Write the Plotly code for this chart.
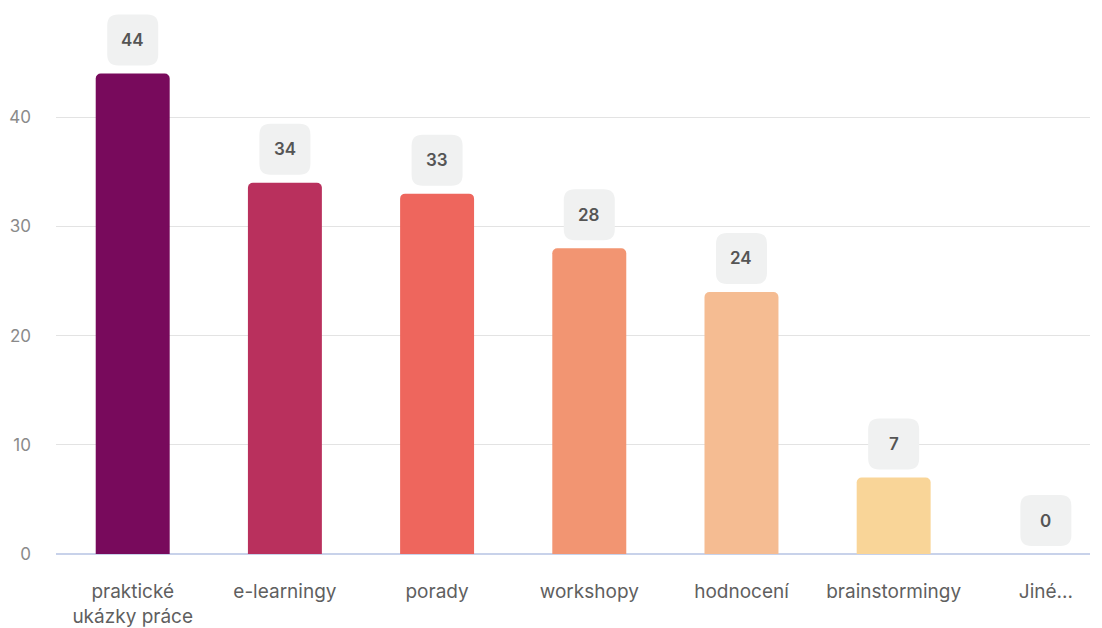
import plotly.graph_objects as go

categories = ["praktické<br>ukázky práce", "e-learningy", "porady", "workshopy",
              "hodnocení", "brainstormingy", "Jiné..."]
values = [44, 34, 33, 28, 24, 7, 0]
bar_colors = ["#780a5c", "#b9305d", "#ee665d", "#f29572", "#f5bc92", "#f9d598", "#fbe6b0"]
y_ticks = [0, 10, 20, 30, 40]

fig = go.Figure()
fig.add_trace(go.Bar(
    x=list(range(len(categories))),
    y=values,
    width=0.486,
    marker=dict(color=bar_colors, cornerradius=5, line=dict(width=0)),
    hoverinfo="skip",
))


def rounded_box(w, h, gap, r):
    # rounded rectangle in pixels, relative to the bar top
    x0, x1 = -w / 2, w / 2
    y0, y1 = gap, gap + h
    return (f"M {x0 + r},{y0} L {x1 - r},{y0} Q {x1},{y0} {x1},{y0 + r} "
            f"L {x1},{y1 - r} Q {x1},{y1} {x1 - r},{y1} "
            f"L {x0 + r},{y1} Q {x0},{y1} {x0},{y1 - r} "
            f"L {x0},{y0 + r} Q {x0},{y0} {x0 + r},{y0} Z")


box_w, box_h, box_gap = 51, 51, 8
for i, v in enumerate(values):
    fig.add_shape(
        type="path", xref="x", yref="y",
        xsizemode="pixel", ysizemode="pixel",
        xanchor=i, yanchor=v,
        path=rounded_box(box_w, box_h, box_gap, 11),
        fillcolor="#f0f1f1", line=dict(width=0), layer="above",
    )
    fig.add_annotation(
        x=i, y=v, yshift=box_gap + box_h / 2, text=str(v),
        showarrow=False,
        font=dict(family="Inter", size=17, weight=600, color="#555555"),
    )

fig.update_layout(
    width=1102, height=628,
    margin=dict(l=56, r=12, t=8, b=74),
    paper_bgcolor="white", plot_bgcolor="white",
    showlegend=False,
    font=dict(family="Inter", color="#555555"),
    xaxis=dict(
        range=[-0.504, 6.29], automargin=False,
        tickmode="array", tickvals=list(range(len(categories))), ticktext=categories,
        showgrid=False, zeroline=False, showline=False, ticks="",
        tickfont=dict(family="Inter", size=19, color="#5f5f5f"),
        ticklabelstandoff=24,
    ),
    yaxis=dict(
        range=[0, 50], automargin=False,
        tickmode="array", tickvals=y_ticks,
        showgrid=True, gridcolor="#e3e3e3", gridwidth=1,
        zeroline=True, zerolinecolor="#c8d2ea", zerolinewidth=1.5,
        showline=False, ticks="",
        tickfont=dict(family="Inter", size=17, color="#8a8a8a"),
        ticklabelstandoff=24,
    ),
)

fig.write_html("out.html")
